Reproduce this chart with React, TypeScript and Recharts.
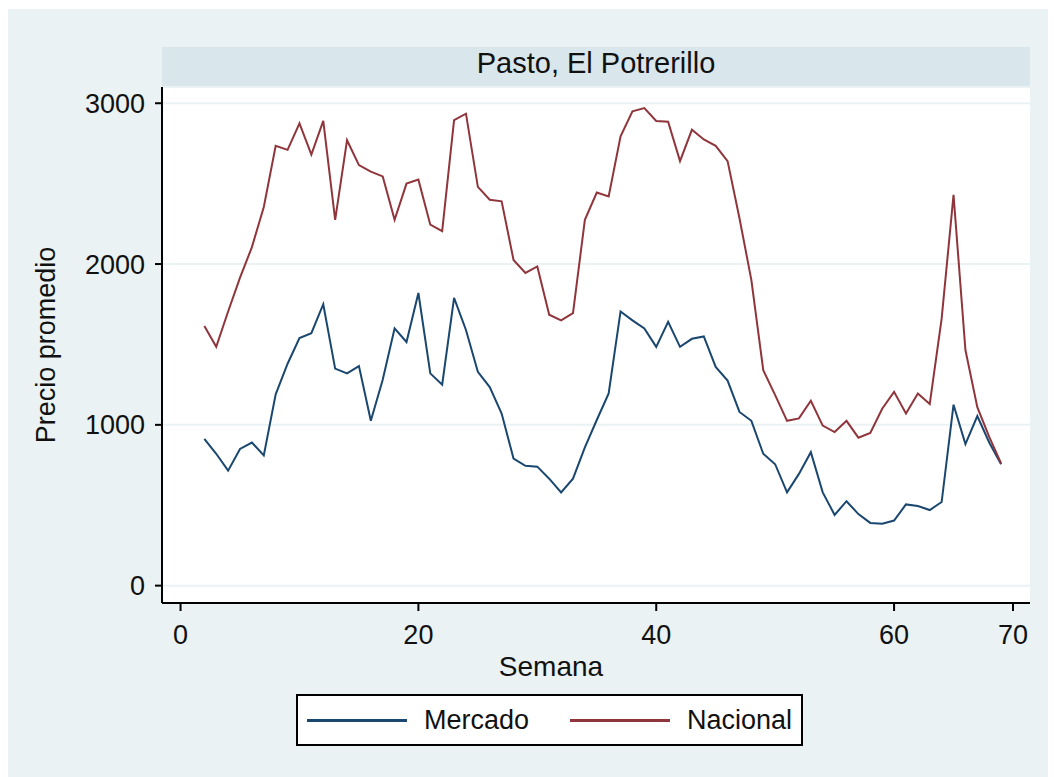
import React from 'react';
import { LineChart, Line, XAxis, YAxis, CartesianGrid } from 'recharts';

const weeks = [
  2, 3, 4, 5, 6, 7, 8, 9, 10, 11, 12, 13, 14, 15, 16, 17, 18, 19, 20, 21, 22, 23,
  24, 25, 26, 27, 28, 29, 30, 31, 32, 33, 34, 35, 36, 37, 38, 39, 40, 41, 42, 43, 44,
  45, 46, 47, 48, 49, 50, 51, 52, 53, 54, 55, 56, 57, 58, 59, 60, 61, 62, 63, 64, 65,
  66, 67, 68, 69,
];

const mercado = [
  913, 820, 715, 850, 890, 810, 1190, 1380, 1540, 1570, 1750, 1350, 1320, 1365, 1025,
  1280, 1600, 1515, 1820, 1320, 1250, 1790, 1590, 1330, 1235, 1070, 790, 745, 740, 665,
  580, 665, 860, 1030, 1195, 1705, 1650, 1600, 1485, 1640, 1485, 1535, 1550, 1360, 1275,
  1080, 1025, 820, 755, 580, 695, 830, 580, 440, 525, 445, 390, 385, 405, 505, 495, 470,
  520, 1125, 880, 1055, 890, 755,
];

const nacional = [
  1614, 1485, 1705, 1915, 2105, 2355, 2735, 2710, 2875, 2680, 2890, 2275, 2770, 2615,
  2575, 2545, 2275, 2500, 2525, 2245, 2205, 2895, 2935, 2480, 2400, 2390, 2025, 1945,
  1985, 1685, 1650, 1695, 2275, 2445, 2420, 2795, 2950, 2970, 2890, 2885, 2640, 2835,
  2775, 2735, 2640, 2285, 1900, 1340, 1185, 1025, 1040, 1150, 995, 955, 1025, 920, 950,
  1100, 1205, 1070, 1195, 1130, 1660, 2430, 1465, 1110, 925, 760,
];

const xTicks = [0, 20, 40, 60, 70];
const yTicks = [0, 1000, 2000, 3000];

const data = weeks.map((w, i) => ({ semana: w, mercado: mercado[i], nacional: nacional[i] }));

const FONT = '"Liberation Sans", Arial, sans-serif';
const BLUE = '#1a476f';
const RED = '#90353b';
const TEXT = '#111';

export default function App() {
  return (
    <div
      style={{
        position: 'relative',
        width: 1048,
        height: 768,
        marginTop: 1,
        background: '#eaf2f3',
        fontFamily: FONT,
        color: TEXT,
      }}
    >
      {/* panel title band */}
      <div
        style={{
          position: 'absolute',
          left: 154,
          top: 38,
          width: 868,
          height: 40,
          background: '#d9e6eb',
          fontSize: 29,
          lineHeight: '29px',
          textAlign: 'center',
        }}
      >
        <div style={{ paddingTop: 2 }}>Pasto, El Potrerillo</div>
      </div>

      <div style={{ position: 'absolute', left: 0, top: 0 }}>
        <LineChart
          width={1048}
          height={768}
          data={data}
          margin={{ top: 78, right: 26, bottom: 134, left: 0 }}
        >
          <CartesianGrid
            vertical={false}
            stroke="#eaf2f3"
            strokeWidth={2}
            fill="#ffffff"
            fillOpacity={1}
          />
          <XAxis
            dataKey="semana"
            type="number"
            domain={[-1.56, 71.43]}
            allowDataOverflow
            ticks={xTicks}
            interval={0}
            height={40}
            tickSize={8}
            tickMargin={14}
            axisLine={{ stroke: '#000', strokeWidth: 2 }}
            tickLine={{ stroke: '#000', strokeWidth: 2 }}
            tick={{ fill: TEXT, fontSize: 27, fontFamily: FONT }}
          />
          <YAxis
            type="number"
            domain={[-108, 3101]}
            allowDataOverflow
            ticks={yTicks}
            interval={0}
            width={154}
            tickSize={7}
            tickMargin={10}
            axisLine={{ stroke: '#000', strokeWidth: 2 }}
            tickLine={{ stroke: '#000', strokeWidth: 2 }}
            tick={{ fill: TEXT, fontSize: 27, fontFamily: FONT }}
            label={{
              value: 'Precio promedio',
              angle: -90,
              position: 'insideLeft',
              offset: 37,
              style: { textAnchor: 'middle', fill: TEXT, fontSize: 27, fontFamily: FONT },
            }}
          />
          <Line
            type="linear"
            dataKey="mercado"
            stroke={BLUE}
            strokeWidth={2}
            dot={false}
            isAnimationActive={false}
          />
          <Line
            type="linear"
            dataKey="nacional"
            stroke={RED}
            strokeWidth={2}
            dot={false}
            isAnimationActive={false}
          />
        </LineChart>
      </div>

      {/* x axis title */}
      <div
        style={{
          position: 'absolute',
          left: 443,
          width: 200,
          top: 644,
          fontSize: 28,
          lineHeight: '28px',
          textAlign: 'center',
        }}
      >
        Semana
      </div>

      {/* legend */}
      <div
        style={{
          position: 'absolute',
          left: 288,
          top: 685,
          width: 507,
          height: 52,
          boxSizing: 'border-box',
          border: '2px solid #000',
          background: '#fff',
          fontSize: 27,
        }}
      >
        {[
          { name: 'Mercado', color: BLUE, x: 9 },
          { name: 'Nacional', color: RED, x: 272 },
        ].map((item) => (
          <div
            key={item.name}
            style={{
              position: 'absolute',
              left: item.x,
              top: 0,
              height: 48,
              display: 'flex',
              alignItems: 'center',
            }}
          >
            <div style={{ width: 100, height: 3, background: item.color }} />
            <div style={{ marginLeft: 17, lineHeight: '27px' }}>{item.name}</div>
          </div>
        ))}
      </div>
    </div>
  );
}
